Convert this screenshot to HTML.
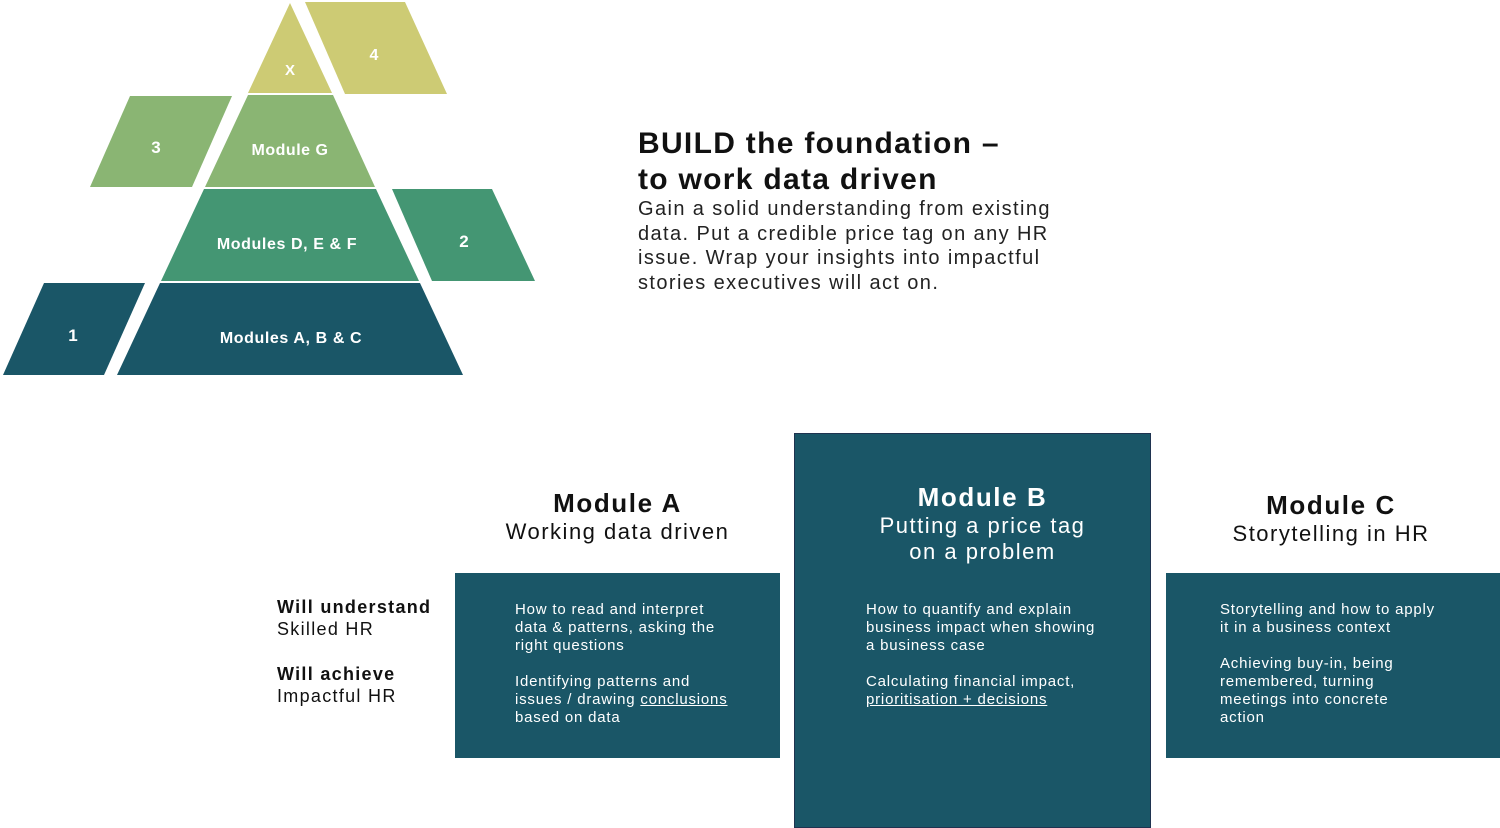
<!DOCTYPE html>
<html><head><meta charset="utf-8"><style>
body{margin:0;width:1500px;height:828px;background:#fff;position:relative;overflow:hidden;font-family:"Liberation Sans",sans-serif;}
.a{position:absolute;white-space:nowrap;}
.box{position:absolute;background:#1A5667;}
.t{color:#fff;font-size:15px;line-height:18px;letter-spacing:0.8px;}
u{text-decoration:underline;}
</style></head><body>
<svg class="a" style="left:0;top:0" width="540" height="380">
<g font-family="Liberation Sans,sans-serif" font-weight="bold" fill="#fff" text-anchor="middle">
<polygon points="290,3 332,93 248,93" fill="#CDCB74"/>
<polygon points="305,2 405,2 447,94 345,94" fill="#CDCB74"/>
<polygon points="248,95 333,95 375,187 205,187" fill="#8AB573"/>
<polygon points="130,96 232,96 192,187 90,187" fill="#8AB573"/>
<polygon points="204,189 376,189 419,281 161,281" fill="#449673"/>
<polygon points="392,189 492,189 535,281 432,281" fill="#449673"/>
<polygon points="160,283 420,283 463,375 117,375" fill="#1A5667"/>
<polygon points="44,283 145,283 104,375 3,375" fill="#1A5667"/>
<text x="290" y="75" font-size="15">X</text>
<text x="374" y="60" font-size="16">4</text>
<text x="290" y="155" font-size="16" letter-spacing="0.5">Module G</text>
<text x="156" y="153" font-size="17">3</text>
<text x="287" y="249" font-size="16" letter-spacing="0.6">Modules D, E &amp; F</text>
<text x="291" y="343" font-size="16" letter-spacing="0.6">Modules A, B &amp; C</text>
<text x="464" y="247" font-size="17">2</text>
<text x="73" y="341" font-size="17">1</text>
</g></svg>

<div class="a" style="left:638px;top:126px;font-size:30px;font-weight:bold;line-height:36px;color:#111;letter-spacing:1.3px;">BUILD the foundation –<br>to work data driven</div>
<div class="a" style="left:638px;top:197px;font-size:20px;line-height:24.5px;color:#222;letter-spacing:1.4px;">Gain a solid understanding from existing<br>data. Put a credible price tag on any HR<br>issue. Wrap your insights into impactful<br>stories executives will act on.</div>

<div class="a" style="left:455px;width:325px;top:487px;text-align:center;color:#111;"><div style="font-size:26px;font-weight:bold;line-height:32px;letter-spacing:1.6px;">Module A</div><div style="font-size:22px;line-height:26px;letter-spacing:1.5px;">Working data driven</div></div>
<div class="a" style="left:1166px;width:330px;top:489px;text-align:center;color:#111;"><div style="font-size:26px;font-weight:bold;line-height:32px;letter-spacing:1.6px;">Module C</div><div style="font-size:22px;line-height:26px;letter-spacing:1.5px;">Storytelling in HR</div></div>

<div class="a" style="left:277px;top:596px;font-size:18px;line-height:22px;color:#111;letter-spacing:1.3px;"><b>Will understand</b><br>Skilled HR</div>
<div class="a" style="left:277px;top:663px;font-size:18px;line-height:22px;color:#111;letter-spacing:1.3px;"><b>Will achieve</b><br>Impactful HR</div>

<div class="box" style="left:455px;top:573px;width:325px;height:185px;"></div>
<div class="a t" style="left:515px;top:601px;">How to read and interpret<br>data &amp; patterns, asking the<br>right questions<br><br>Identifying patterns and<br>issues / drawing <u>conclusions</u><br>based on data</div>

<div class="box" style="left:794px;top:433px;width:355px;height:393px;border:1px solid #1f3350;"></div>
<div class="a" style="left:794px;width:377px;top:481px;text-align:center;color:#fff;"><div style="font-size:26px;font-weight:bold;line-height:32px;letter-spacing:1.6px;">Module B</div><div style="font-size:22px;line-height:26px;letter-spacing:1.5px;">Putting a price tag<br>on a problem</div></div>
<div class="a t" style="left:866px;top:601px;">How to quantify and explain<br>business impact when showing<br>a business case<br><br>Calculating financial impact,<br><u>prioritisation + decisions</u></div>

<div class="box" style="left:1166px;top:573px;width:334px;height:185px;"></div>
<div class="a t" style="left:1220px;top:601px;">Storytelling and how to apply<br>it in a business context<br><br>Achieving buy-in, being<br>remembered, turning<br>meetings into concrete<br>action</div>
</body></html>
